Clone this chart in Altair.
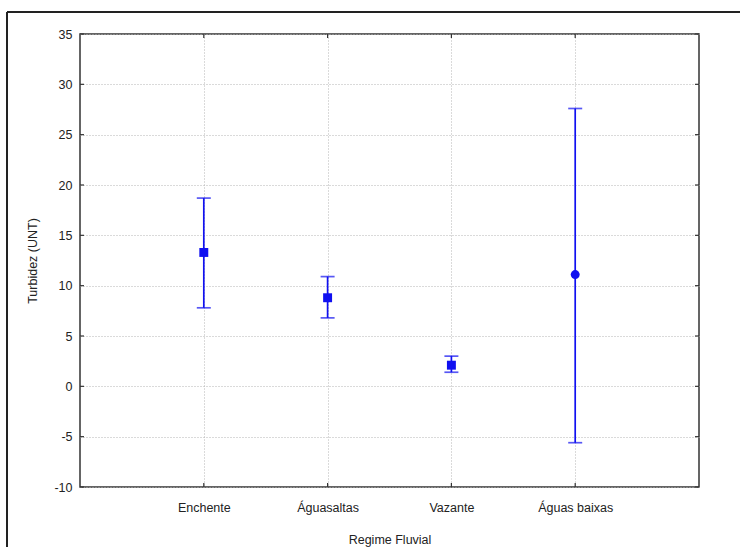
import altair as alt
import pandas as pd

# Turbidity by river regime: mean with confidence interval
categories = ["Enchente", "Águasaltas", "Vazante", "Águas baixas"]
means = [13.3, 8.8, 2.1, 11.1]
lower = [7.8, 6.8, 1.4, -5.6]
upper = [18.7, 10.9, 3.0, 27.6]
markers = ["square", "square", "square", "circle"]
y_ticks = list(range(-10, 40, 5))

df = pd.DataFrame({
    "regime": categories,
    "mean": means,
    "lo": lower,
    "hi": upper,
    "marker": markers,
})
ticks_df = pd.DataFrame({"v": y_ticks})

W, H = 619, 453
BLUE = "#1010f0"
FONT = "Liberation Sans"

x_scale = alt.Scale(type="point", domain=categories, padding=1)
y_scale = alt.Scale(domain=[-10, 35], nice=False, zero=False)

x_enc = alt.X("regime:N", scale=x_scale, sort=categories,
              axis=alt.Axis(title="Regime Fluvial", labelAngle=0, tickSize=0,
                            labelPadding=14, titlePadding=20, domain=False,
                            grid=True))
y_axis = alt.Axis(title="Turbidez (UNT)", values=y_ticks, tickSize=0,
                  labelExpr="'' + datum.value",
                  labelPadding=8, titlePadding=14, domain=False, grid=True)

base = alt.Chart(df)

bars = base.mark_rule(color=BLUE, strokeWidth=1.7).encode(
    x=x_enc,
    y=alt.Y("lo:Q", scale=y_scale, axis=y_axis),
    y2="hi:Q",
)
cap_lo = base.mark_tick(color=BLUE, size=14, thickness=1.7, orient="horizontal").encode(
    x=alt.X("regime:N", scale=x_scale, sort=categories),
    y=alt.Y("lo:Q", scale=y_scale),
)
cap_hi = base.mark_tick(color=BLUE, size=14, thickness=1.7, orient="horizontal").encode(
    x=alt.X("regime:N", scale=x_scale, sort=categories),
    y=alt.Y("hi:Q", scale=y_scale),
)
points = base.mark_point(filled=True, opacity=1, color=BLUE, size=80).encode(
    x=alt.X("regime:N", scale=x_scale, sort=categories),
    y=alt.Y("mean:Q", scale=y_scale),
    shape=alt.Shape("marker:N", scale=None, legend=None),
)

# inward tick marks on all four sides of the frame
tick_style = dict(color="#333333", strokeWidth=1.2)
yt = alt.Chart(ticks_df)
left_ticks = yt.mark_rule(**tick_style).encode(
    y=alt.Y("v:Q", scale=y_scale), x=alt.value(0), x2=alt.value(4))
right_ticks = yt.mark_rule(**tick_style).encode(
    y=alt.Y("v:Q", scale=y_scale), x=alt.value(W - 4), x2=alt.value(W))
top_ticks = base.mark_rule(**tick_style).encode(
    x=alt.X("regime:N", scale=x_scale, sort=categories), y=alt.value(0), y2=alt.value(4))
bottom_ticks = base.mark_rule(**tick_style).encode(
    x=alt.X("regime:N", scale=x_scale, sort=categories), y=alt.value(H - 4), y2=alt.value(H))

# outer figure border (left and top edges)
outer_left = base.mark_rule(color="#222222", strokeWidth=1.5).encode(
    x=alt.value(-73), y=alt.value(-22), y2=alt.value(H + 120))
outer_top = base.mark_rule(color="#222222", strokeWidth=1.5).encode(
    y=alt.value(-22), x=alt.value(-73), x2=alt.value(W + 120))

chart = alt.layer(
    bars, cap_lo, cap_hi, points,
    left_ticks, right_ticks, top_ticks, bottom_ticks,
    outer_left, outer_top,
).properties(
    width=W, height=H,
    autosize=alt.AutoSizeParams(type="none"),
    padding={"left": 80, "top": 34, "right": 41, "bottom": 60},
    background="white",
).configure_view(
    stroke="#333333", strokeWidth=1.5,
).configure_axis(
    labelFont=FONT, titleFont=FONT, labelFontSize=12.5, titleFontSize=12.5,
    labelColor="#222222", titleColor="#222222", titleFontWeight="normal",
    gridColor="#b4b4b4", gridDash=[1, 2], gridWidth=1,
)

chart.save("out.html", embed_options={"renderer": "svg", "actions": False})
